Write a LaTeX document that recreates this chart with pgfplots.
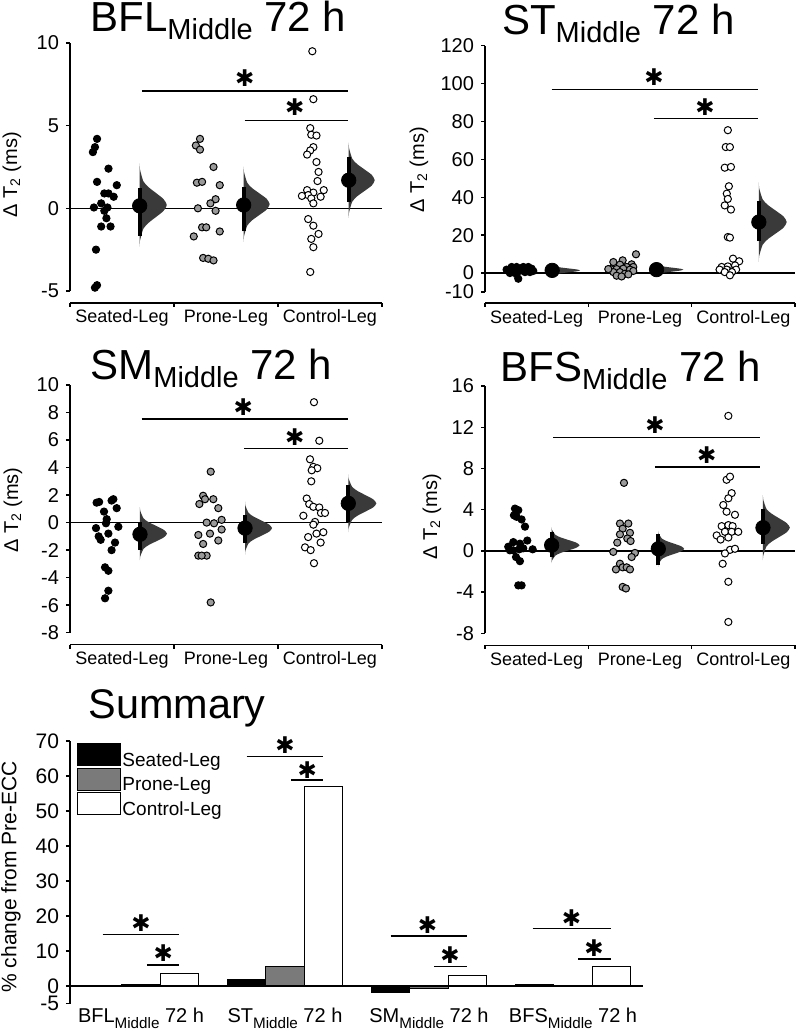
\documentclass[border=0pt]{standalone}
\usepackage{pgfplots}
\pgfplotsset{compat=1.18}
\usepackage{fontspec}
\setmainfont{Liberation Sans}
\newfontfamily\dejavu{DejaVu Sans}
\definecolor{vio}{HTML}{3A3A3A}
\definecolor{pronedot}{HTML}{9A9A9A}
\definecolor{pronebar}{HTML}{7A7A7A}
\newcommand\sig{{\dejavu\fontsize{11.5}{11.5}\selectfont ✱}}
\newcommand\ttl[1]{{\fontsize{21}{21}\selectfont #1\raisebox{-4pt}{\fontsize{14.5}{14.5}\selectfont Middle} 72 h}}
\newcommand\slab[1]{#1\raisebox{-2.8pt}{\fontsize{7.6}{8}\selectfont Middle} 72 h}
% #1 = line position (negative rel y), #2 = tick end (negative rel y)
\newcommand\bracket[2]{%
  \draw[line width=0.7pt] (axis description cs:0,#1) -- (axis description cs:1,#1);
  \draw[line width=0.7pt] (axis description cs:0,#1) -- (axis description cs:0,#2);
  \draw[line width=0.7pt] (axis description cs:0.33333,#1) -- (axis description cs:0.33333,#2);
  \draw[line width=0.7pt] (axis description cs:0.66667,#1) -- (axis description cs:0.66667,#2);
  \draw[line width=0.7pt] (axis description cs:1,#1) -- (axis description cs:1,#2);
}
\pgfplotsset{
  base/.style={scale only axis, clip=false,
    axis y line*=left, axis x line*=bottom,
    x axis line style={draw=none}, y axis line style={line width=0.7pt,-},
    xtick style={draw=none}, ytick style={line width=0.7pt,black},
    tick align=outside, major tick length=2pt,
    /pgf/number format/assume math mode=true,
    yticklabel style={font=\fontsize{10}{12}\selectfont, inner ysep=0pt},
    label style={font=\fontsize{10}{12}\selectfont},
  },
  panel/.style={base, xmin=0, xmax=3,
    xtick={0.5,1.5,2.5}, xticklabels={Seated-Leg,Prone-Leg,Control-Leg},
    xticklabel style={anchor=base, yshift=-14pt, font=\fontsize{9}{10}\selectfont},
    ylabel={Δ T\textsubscript{2} (ms)},
  },
  sdot/.style={only marks, mark=*, mark size=1.8pt, mark options={fill=black, draw=black, line width=0.5pt}},
  pdot/.style={only marks, mark=*, mark size=1.8pt, mark options={fill=pronedot, draw=black, line width=0.5pt}},
  cdot/.style={only marks, mark=*, mark size=1.8pt, mark options={fill=white, draw=black, line width=0.5pt}},
  mdot/.style={only marks, mark=*, mark size=3.6pt, mark options={fill=black, draw=black}},
  ci/.style={black, line width=2pt},
  vio/.style={fill=vio, draw=none, smooth, tension=0.4},
  zl/.style={black, line width=0.7pt},
  sl/.style={black, line width=0.7pt, forget plot},
}
\begin{document}
\begin{tikzpicture}
\useasboundingbox (0,0) rectangle (400pt,515.5pt);

% ---------------- BFL ----------------
\begin{axis}[panel, at={(35pt,370pt)}, anchor=south west, width=156pt, height=124pt,
  ymin=-5, ymax=10, ytick={-5,0,5,10},
  ylabel style={at={(axis description cs:-0.186,0.468)}, anchor=center}]
\addplot[zl] coordinates {(0,0) (3,0)};
\addplot[vio] coordinates {(0.67,-2.32) (0.673,-1.96) (0.705,-1.24) (0.755,-0.88) (0.828,-0.52) (0.899,-0.16) (0.93,0.2) (0.899,0.56) (0.828,0.92) (0.755,1.28) (0.705,1.64) (0.673,2.36) (0.67,2.72)};
\addplot[vio] coordinates {(1.67,-2.025) (1.673,-1.7) (1.704,-1.05) (1.751,-0.725) (1.822,-0.4) (1.891,-0.075) (1.92,0.25) (1.891,0.575) (1.822,0.9) (1.751,1.225) (1.704,1.55) (1.673,2.2) (1.67,2.525)};
\addplot[vio] coordinates {(2.68,-0.575) (2.683,-0.25) (2.714,0.4) (2.761,0.725) (2.832,1.05) (2.901,1.375) (2.93,1.7) (2.901,2.025) (2.832,2.35) (2.761,2.675) (2.714,3.0) (2.683,3.65) (2.68,3.975)};
\addplot[ci] coordinates {(0.67,-1.65) (0.67,1.2)};
\addplot[ci] coordinates {(1.67,-1.4) (1.67,1.3)};
\addplot[ci] coordinates {(2.68,0.4) (2.68,3.1)};
\addplot[mdot] coordinates {(0.67,0.15) (1.67,0.2) (2.68,1.7)};
\addplot[sdot] coordinates {(0.26,4.2) (0.24,3.7) (0.22,3.4) (0.37,2.4) (0.26,1.6) (0.45,1.4) (0.33,0.9) (0.37,0.9) (0.42,0.7) (0.30,0.3) (0.23,0.05) (0.36,0.05) (0.33,-0.15) (0.35,-0.6) (0.30,-1.1) (0.39,-1.1) (0.25,-2.5) (0.26,-4.65) (0.24,-4.8)};
\addplot[pdot] coordinates {(1.25,4.2) (1.21,3.8) (1.25,3.55) (1.38,2.5) (1.22,1.55) (1.27,1.6) (1.44,1.4) (1.40,0.55) (1.23,0.0) (1.35,0.3) (1.40,-0.15) (1.27,-1.15) (1.31,-1.15) (1.44,-1.4) (1.19,-1.7) (1.28,-3.0) (1.33,-3.05) (1.38,-3.15)};
\addplot[cdot] coordinates {(2.33,9.5) (2.34,6.6) (2.31,4.85) (2.32,4.45) (2.37,4.4) (2.34,3.7) (2.31,3.5) (2.28,3.25) (2.37,2.8) (2.39,2.2) (2.38,1.65) (2.28,1.1) (2.34,0.95) (2.44,1.1) (2.29,0.8) (2.23,0.75) (2.32,0.6) (2.41,0.7) (2.34,0.3) (2.29,-0.65) (2.34,-1.05) (2.39,-1.55) (2.32,-1.85) (2.34,-2.35) (2.31,-3.85)};
\addplot[sl] coordinates {(0.69,7.1) (2.67,7.1)};
\addplot[sl] coordinates {(1.68,5.3) (2.67,5.3)};
\node at (axis cs:1.68,7.9) {\sig};
\node at (axis cs:2.16,6.1) {\sig};
\bracket{-0.0484}{-0.0645}
\end{axis}

% ---------------- ST ----------------
\begin{axis}[panel, at={(242.5pt,369.5pt)}, anchor=south west, width=155pt, height=123.15pt,
  ymin=-10, ymax=120, ytick={-10,0,20,40,60,80,100,120},
  ylabel style={at={(axis description cs:-0.213,0.496)}, anchor=center}]
\addplot[zl] coordinates {(0,0) (3,0)};
\addplot[vio] coordinates {(0.65,-2.1) (0.653,-1.6) (0.687,-0.6) (0.738,-0.1) (0.814,0.4) (0.888,0.9) (0.92,1.4) (0.888,1.9) (0.814,2.4) (0.738,2.9) (0.687,3.4) (0.653,4.4) (0.65,4.9)};
\addplot[vio] coordinates {(1.66,-1.7) (1.663,-1.2) (1.695,-0.2) (1.745,0.3) (1.818,0.8) (1.889,1.3) (1.92,1.8) (1.889,2.3) (1.818,2.8) (1.745,3.3) (1.695,3.8) (1.663,4.8) (1.66,5.3)};
\addplot[vio] coordinates {(2.65,5.9) (2.653,8.9) (2.687,14.9) (2.738,17.9) (2.814,20.9) (2.888,23.9) (2.92,26.9) (2.888,29.9) (2.814,32.9) (2.738,35.9) (2.687,38.9) (2.653,44.9) (2.65,47.9)};
\addplot[ci] coordinates {(0.65,-0.5) (0.65,3.3)};
\addplot[ci] coordinates {(1.66,-0.2) (1.66,3.8)};
\addplot[ci] coordinates {(2.65,16.9) (2.65,37.9)};
\addplot[mdot] coordinates {(0.65,1.4) (1.66,1.8) (2.65,26.9)};
\addplot[sdot] coordinates {(0.258,3.2) (0.371,3.2) (0.419,3.2) (0.29,1.4) (0.225,1.1) (0.338,2.3) (0.451,2.3) (0.322,-3.0) (0.267,0.5) (0.387,0.5) (0.435,0.5) (0.306,-0.7) (0.354,1.4) (0.403,1.8) (0.241,0) (0.306,3.2) (0.467,1.1) (0.209,1.8)};
\addplot[pdot] coordinates {(1.461,9.9) (1.332,6.7) (1.419,4.6) (1.242,5.8) (1.306,4.4) (1.371,3.2) (1.435,3.2) (1.216,2.1) (1.274,2.1) (1.338,2.3) (1.403,1.8) (1.242,0.5) (1.306,0.5) (1.354,-0.4) (1.435,1.1) (1.274,-1.4) (1.322,-1.8) (1.387,-0.7) (1.193,2.1)};
\addplot[cdot] coordinates {(2.35,75.4) (2.33,66.5) (2.37,66.5) (2.32,55.6) (2.38,56) (2.36,45.8) (2.34,41.9) (2.35,39.1) (2.32,35.7) (2.38,33.5) (2.35,19.0) (2.37,18.7) (2.40,7.6) (2.46,6.2) (2.29,3.2) (2.35,3.5) (2.42,4.0) (2.27,1.8) (2.34,1.8) (2.43,1.8) (2.39,0.5) (2.32,0.5) (2.37,-1.2)};
\addplot[sl] coordinates {(0.645,96.8) (2.645,96.8)};
\addplot[sl] coordinates {(1.635,81.5) (2.645,81.5)};
\node at (axis cs:1.635,103.5) {\sig};
\node at (axis cs:2.13,87.7) {\sig};
\bracket{-0.0447}{-0.0609}
\end{axis}

% ---------------- SM ----------------
\begin{axis}[panel, at={(35pt,199.15pt)}, anchor=south west, width=156pt, height=123.85pt,
  ymin=-8, ymax=10, ytick={-8,-6,-4,-2,0,2,4,6,8,10},
  ylabel style={at={(axis description cs:-0.183,0.495)}, anchor=center}]
\addplot[zl] coordinates {(0,0) (3,0)};
\addplot[vio] coordinates {(0.673,-2.725) (0.676,-2.45) (0.708,-1.9) (0.758,-1.625) (0.831,-1.35) (0.902,-1.075) (0.933,-0.8) (0.902,-0.525) (0.831,-0.25) (0.758,0.025) (0.708,0.3) (0.676,0.85) (0.673,1.125)};
\addplot[vio] coordinates {(1.683,-2.325) (1.686,-2.05) (1.718,-1.5) (1.768,-1.225) (1.841,-0.95) (1.912,-0.675) (1.943,-0.4) (1.912,-0.125) (1.841,0.15) (1.768,0.425) (1.718,0.7) (1.686,1.25) (1.683,1.525)};
\addplot[vio] coordinates {(2.676,-0.7) (2.679,-0.4) (2.713,0.2) (2.764,0.5) (2.840,0.8) (2.914,1.1) (2.946,1.4) (2.914,1.7) (2.840,2.0) (2.764,2.3) (2.713,2.6) (2.679,3.2) (2.676,3.5)};
\addplot[ci] coordinates {(0.673,-2.0) (0.673,0.07)};
\addplot[ci] coordinates {(1.683,-1.5) (1.683,0.55)};
\addplot[ci] coordinates {(2.676,0.07) (2.676,2.75)};
\addplot[mdot] coordinates {(0.673,-0.85) (1.683,-0.4) (2.676,1.4)};
\addplot[sdot] coordinates {(0.256,1.45) (0.28,1.5) (0.417,1.7) (0.40,1.6) (0.327,0.8) (0.449,1.05) (0.353,0.25) (0.346,-0.05) (0.25,-0.4) (0.465,-0.3) (0.276,-1.0) (0.369,-0.8) (0.295,-1.25) (0.433,-1.45) (0.40,-2.0) (0.337,-3.25) (0.369,-3.5) (0.369,-4.95) (0.337,-5.5)};
\addplot[pdot] coordinates {(1.353,3.7) (1.28,1.95) (1.244,1.35) (1.378,1.7) (1.298,1.7) (1.426,1.05) (1.458,0.2) (1.385,-0.05) (1.314,0.0) (1.234,-0.9) (1.346,-0.8) (1.458,-0.5) (1.28,-1.55) (1.426,-1.3) (1.234,-2.4) (1.314,-2.4) (1.266,-2.4) (1.353,-5.8)};
\addplot[cdot] coordinates {(2.346,8.75) (2.397,5.95) (2.308,4.6) (2.34,4.05) (2.378,3.95) (2.324,3.8) (2.32,3.0) (2.276,1.75) (2.30,1.35) (2.34,1.15) (2.397,1.1) (2.413,0.7) (2.452,0.7) (2.244,0.5) (2.356,0.05) (2.34,-0.15) (2.37,-0.8) (2.436,-0.7) (2.29,-1.05) (2.41,-1.45) (2.26,-1.8) (2.314,-2.0) (2.346,-2.95)};
\addplot[sl] coordinates {(0.689,7.53) (2.676,7.53)};
\addplot[sl] coordinates {(1.676,5.4) (2.676,5.4)};
\node at (axis cs:1.667,8.4) {\sig};
\node at (axis cs:2.16,6.2) {\sig};
\bracket{-0.0484}{-0.0646}
\end{axis}

% ---------------- BFS ----------------
\begin{axis}[panel, at={(242.5pt,198.85pt)}, anchor=south west, width=155pt, height=123.65pt,
  ymin=-8, ymax=16, ytick={-8,-4,0,4,8,12,16},
  ylabel style={at={(axis description cs:-0.171,0.47)}, anchor=center}]
\addplot[zl] coordinates {(0,0) (3,0)};
\addplot[vio] coordinates {(0.645,-1.2) (0.648,-0.95) (0.682,-0.45) (0.733,-0.2) (0.809,0.05) (0.883,0.3) (0.915,0.55) (0.883,0.8) (0.809,1.05) (0.733,1.3) (0.682,1.55) (0.648,2.05) (0.645,2.3)};
\addplot[vio] coordinates {(1.677,-1.55) (1.680,-1.3) (1.711,-0.8) (1.758,-0.55) (1.829,-0.3) (1.898,-0.05) (1.927,0.2) (1.898,0.45) (1.829,0.7) (1.758,0.95) (1.711,1.2) (1.680,1.7) (1.677,1.95)};
\addplot[vio] coordinates {(2.69,-0.9) (2.693,-0.45) (2.725,0.45) (2.775,0.9) (2.848,1.35) (2.919,1.8) (2.95,2.25) (2.919,2.7) (2.848,3.15) (2.775,3.6) (2.725,4.05) (2.693,4.95) (2.69,5.4)};
\addplot[ci] coordinates {(0.645,-0.6) (0.645,1.85)};
\addplot[ci] coordinates {(1.677,-1.4) (1.677,1.6)};
\addplot[ci] coordinates {(2.69,0.7) (2.69,4.1)};
\addplot[mdot] coordinates {(0.645,0.55) (1.677,0.2) (2.69,2.25)};
\addplot[sdot] coordinates {(0.29,4.1) (0.322,3.95) (0.28,3.45) (0.306,3.3) (0.354,3.05) (0.387,2.35) (0.274,0.85) (0.338,0.7) (0.409,1.0) (0.225,0.4) (0.274,0.05) (0.332,0.15) (0.241,0.05) (0.37,0.25) (0.461,0.15) (0.30,-0.6) (0.338,-1.0) (0.322,-3.35) (0.354,-3.35)};
\addplot[pdot] coordinates {(1.345,6.6) (1.306,2.65) (1.387,2.65) (1.332,2.15) (1.306,1.6) (1.403,1.75) (1.28,0.8) (1.377,1.2) (1.409,0.95) (1.241,-0.1) (1.451,-0.2) (1.419,-0.6) (1.306,-1.25) (1.267,-1.8) (1.332,-1.6) (1.371,-1.6) (1.403,-1.8) (1.332,-3.5) (1.364,-3.65)};
\addplot[cdot] coordinates {(2.355,13.1) (2.338,6.9) (2.371,7.2) (2.387,5.6) (2.355,5.1) (2.306,4.45) (2.338,3.8) (2.419,3.5) (2.29,2.4) (2.355,2.5) (2.396,2.4) (2.242,1.5) (2.322,1.85) (2.387,1.85) (2.451,1.85) (2.28,1.1) (2.355,1.3) (2.371,0.1) (2.419,0.2) (2.322,-0.25) (2.30,-1.25) (2.355,-3.0) (2.355,-6.9)};
\addplot[sl] coordinates {(0.66,11.0) (2.66,11.0)};
\addplot[sl] coordinates {(1.645,8.15) (2.66,8.15)};
\node at (axis cs:1.645,12.2) {\sig};
\node at (axis cs:2.145,9.3) {\sig};
\bracket{-0.0485}{-0.0647}
\end{axis}

% ---------------- Summary ----------------
\begin{axis}[base, at={(35pt,13.75pt)}, anchor=south west, width=286.5pt, height=131.25pt,
  xmin=-0.493, xmax=3.486, ymin=-5, ymax=70, ytick={-5,0,10,20,30,40,50,60,70},
  xtick={0,1,2,3}, xticklabels={\slab{BFL},\slab{ST},\slab{SM},\slab{BFS}},
  xticklabel style={anchor=base, yshift=-7.6pt, font=\fontsize{10}{12}\selectfont},
  yticklabel style={font=\fontsize{10.5}{12}\selectfont, inner ysep=0pt},
  ylabel={\% change from Pre-ECC},
  ylabel style={at={(axis description cs:-0.103,0.482)}, anchor=center, font=\fontsize{10.5}{12}\selectfont},
  legend style={at={(0.012,0.993)}, anchor=north west, draw=none, fill=none, inner sep=0pt,
    row sep=-1.2pt, nodes={inner sep=0.6pt}, font=\fontsize{9.5}{11}\selectfont},
  legend cell align=left,
  legend image code/.code={\draw[#1] (0pt,-2.5pt) rectangle (21.5pt,8.5pt);}]
\addplot[ybar, bar width=0.267, bar shift=-0.267, fill=black, draw=black, line width=0.5pt] coordinates {(0,0.1) (1,2.0) (2,-1.9) (3,0.5)};
\addplot[ybar, bar width=0.267, bar shift=0, fill=pronebar, draw=black, line width=0.5pt] coordinates {(0,0.3) (1,5.7) (2,-0.7) (3,0.05)};
\addplot[ybar, bar width=0.267, bar shift=0.267, fill=white, draw=black, line width=0.5pt] coordinates {(0,3.7) (1,57) (2,3.0) (3,5.5)};
\legend{Seated-Leg,Prone-Leg,Control-Leg}
\addplot[sl] coordinates {(-0.493,0) (3.486,0)};
\addplot[sl] coordinates {(-0.267,14.8) (0.267,14.8)};
\addplot[sl] coordinates {(0.04,6.0) (0.267,6.0)};
\addplot[sl] coordinates {(0.734,65.5) (1.266,65.5)};
\addplot[sl] coordinates {(1.042,58.9) (1.266,58.9)};
\addplot[sl] coordinates {(1.733,14.3) (2.267,14.3)};
\addplot[sl] coordinates {(2.035,5.5) (2.267,5.5)};
\addplot[sl] coordinates {(2.72,16.4) (3.264,16.4)};
\addplot[sl] coordinates {(3.035,7.7) (3.264,7.7)};
\node at (axis cs:0.0,18.0) {\sig};
\node at (axis cs:0.155,9.4) {\sig};
\node at (axis cs:1.0,68.9) {\sig};
\node at (axis cs:1.155,61.7) {\sig};
\node at (axis cs:1.99,17.4) {\sig};
\node at (axis cs:2.146,8.9) {\sig};
\node at (axis cs:2.99,19.4) {\sig};
\node at (axis cs:3.146,10.9) {\sig};
\end{axis}

% titles
\node[anchor=base west, inner sep=0pt] at (45pt,499.5pt) {\ttl{BFL}};
\node[anchor=base west, inner sep=0pt] at (250.8pt,498pt) {\ttl{ST}};
\node[anchor=base west, inner sep=0pt] at (45pt,325.5pt) {\ttl{SM}};
\node[anchor=base west, inner sep=0pt] at (250pt,324.7pt) {\ttl{BFS}};
\node[anchor=base west, inner sep=0pt] at (44pt,156.3pt) {\fontsize{20.7}{20.7}\selectfont Summary};
\end{tikzpicture}
\end{document}
